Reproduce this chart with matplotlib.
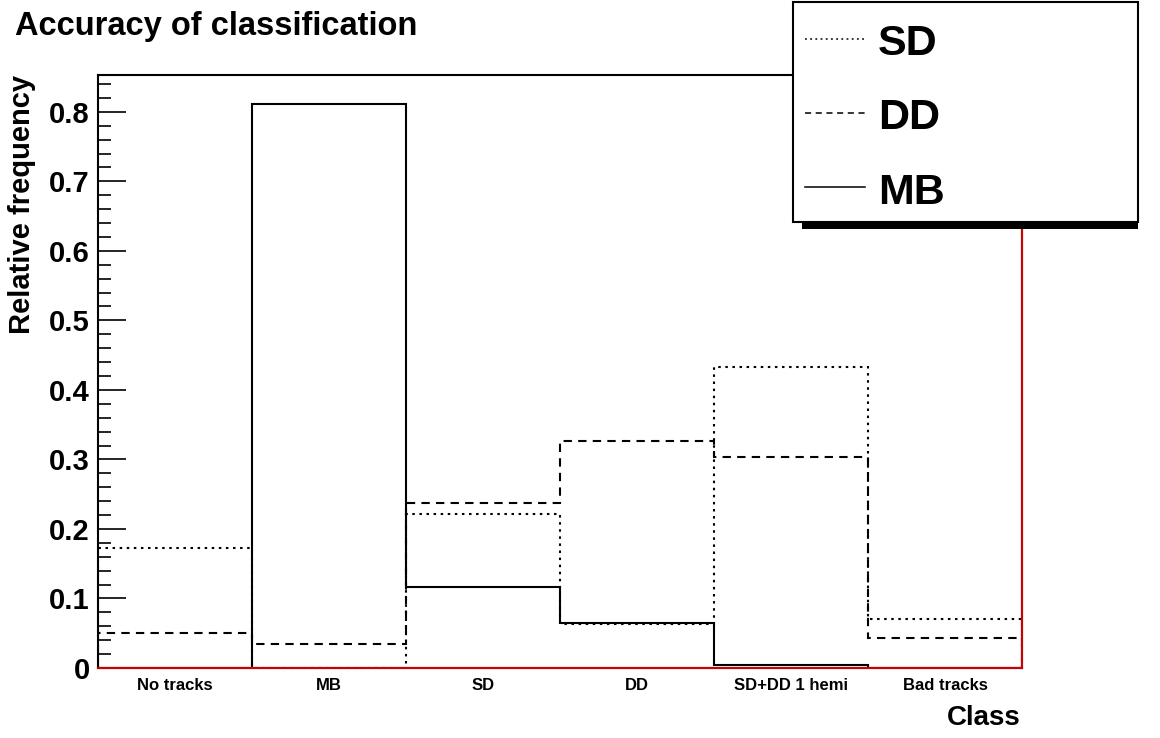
import numpy as np
import matplotlib.pyplot as plt
from matplotlib.patches import Rectangle
from matplotlib.lines import Line2D
from matplotlib.ticker import MultipleLocator

plt.rcParams['font.family'] = ['Liberation Sans', 'DejaVu Sans']
plt.rcParams['font.weight'] = 'bold'

classes = ["No tracks", "MB", "SD", "DD", "SD+DD 1 hemi", "Bad tracks"]
sd = [0.173, 0.0, 0.222, 0.063, 0.433, 0.071]
dd = [0.050, 0.035, 0.237, 0.326, 0.304, 0.043]
mb = [0.0, 0.812, 0.117, 0.065, 0.004, 0.0]

series = [("SD", sd, (0, (1.2, 2.2))), ("DD", dd, (0, (4, 3))), ("MB", mb, '-')]

edges = np.arange(len(classes) + 1)

W, H = 1160, 738
fig = plt.figure(figsize=(W/100, H/100), dpi=100)
ax = fig.add_axes([98/W, 1 - 668/H, (1022-98)/W, (668-75)/H])

for name, vals, ls in series[::-1]:
    ax.stairs(vals, edges, color='black', linestyle=ls, linewidth=1.5, baseline=0)

# red empty histogram along the bottom/right edge
ax.plot([0, len(classes), len(classes)], [0, 0, 0.853], color='#cc0000', lw=1.5,
        clip_on=False, zorder=5)

ax.set_xlim(0, len(classes))
ax.set_ylim(0, 0.853)
ax.set_xticks(edges[:-1] + 0.5)
ax.set_xticklabels(classes, fontsize=12, fontweight='bold')
ax.tick_params(axis='x', length=0, pad=7)
ax.yaxis.set_minor_locator(MultipleLocator(0.02))
ax.set_yticks(np.arange(0, 0.81, 0.1))
ax.set_yticklabels(["0"] + ["%.1f" % v for v in np.arange(0.1, 0.81, 0.1)],
                   fontsize=21, fontweight='bold')
ax.tick_params(axis='y', which='major', direction='in', length=20, width=1.2, pad=6)
ax.tick_params(axis='y', which='minor', direction='in', length=9.5, width=1.2)
for s in ax.spines.values():
    s.set_linewidth(1.5)

ax.set_ylabel("Relative frequency", fontsize=21, fontweight='bold')
ax.yaxis.set_label_coords(-0.067, 1.0)
ax.yaxis.label.set_ha('right')
fig.text(1021/W, 1 - 725/H, "Class", fontsize=20, fontweight='bold',
         ha='right', va='baseline')
fig.text(15/W, 1 - 35/H, "Accuracy of classification", fontsize=23.5,
         fontweight='bold', ha='left', va='baseline')

# legend box with shadow
lx0, lx1 = 793/W, 1138/W
ly0, ly1 = 1 - 222/H, 1 - 2/H
fig.patches.append(Rectangle((lx0 + 9/W, ly0 - 7/H), lx1 - lx0 - 9/W, 7/H,
                             transform=fig.transFigure, facecolor='black',
                             edgecolor='none', zorder=9))
fig.patches.append(Rectangle((lx0, ly0), lx1 - lx0, ly1 - ly0,
                             transform=fig.transFigure, facecolor='white',
                             edgecolor='black', lw=1.5, zorder=10))
line_y = [39, 113, 187]
text_base = [55, 129, 204]
for (name, vals, ls), yl, yb in zip(series, line_y, text_base):
    fig.lines.append(Line2D([805/W, 865/W], [1 - yl/H, 1 - yl/H],
                            transform=fig.transFigure, color='black',
                            linestyle=ls, lw=1.1, zorder=11))
    fig.text(878/W, 1 - yb/H, name, fontsize=31, fontweight='bold', ha='left',
             va='baseline', zorder=12)

fig.savefig("out.png", dpi=100)
